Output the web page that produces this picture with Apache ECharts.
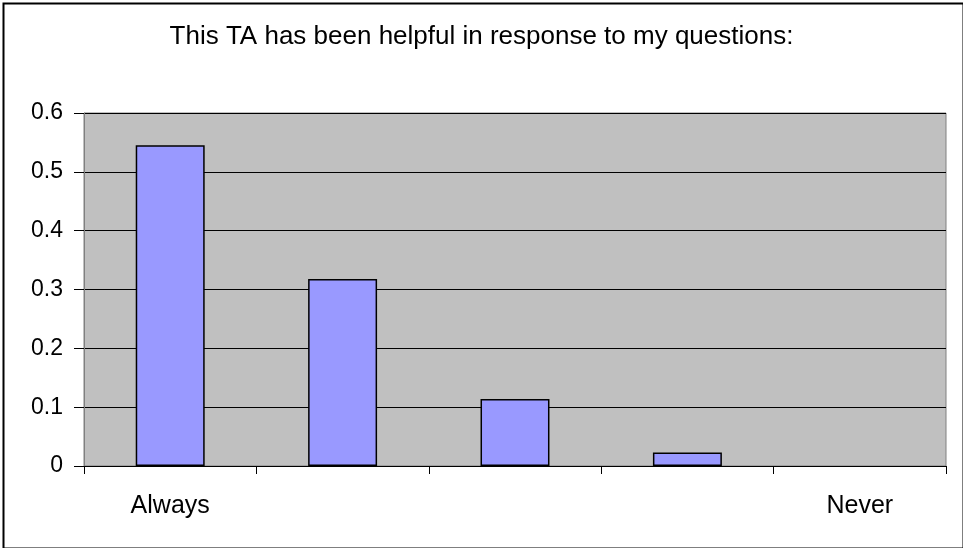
<!DOCTYPE html>
<html>
<head>
<meta charset="utf-8">
<script src="https://cdn.jsdelivr.net/npm/echarts@6/dist/echarts.min.js"></script>
<style>
  html, body { margin: 0; padding: 0; background: #fff; }
  #main { width: 963px; height: 548px; }
</style>
</head>
<body>
<div id="main"></div>
<script>
// responses to "This TA has been helpful..." (share of answers)
var categories = ['Always', '', '', '', 'Never'];
var shares = [0.545, 0.318, 0.114, 0.023, 0];
var yTicks = [0, 0.1, 0.2, 0.3, 0.4, 0.5, 0.6];

var font = 'Liberation Sans, Arial, sans-serif';

// a zero bar is not drawn at all in the original (no outline)
var barData = shares.map(function (v) {
    return v === 0 ? { value: v, itemStyle: { borderWidth: 0 } } : v;
});

var chart = echarts.init(document.getElementById('main'));
chart.setOption({
    animation: false,
    title: {
        text: 'This TA has been helpful in response to my questions:',
        left: 'center',
        top: 19,
        textStyle: {
            color: '#000',
            fontSize: 26,
            fontWeight: 'normal',
            fontFamily: font
        }
    },
    graphic: [{
        type: 'rect',
        left: 1,
        top: 1,
        shape: { width: 960, height: 545 },
        style: { fill: 'none', stroke: '#000', lineWidth: 2 },
        silent: true
    }],
    grid: {
        left: 84,
        right: 17,
        top: 113,
        bottom: 82,
        show: true,
        backgroundColor: '#C0C0C0',
        borderColor: '#808080',
        borderWidth: 1
    },
    xAxis: {
        type: 'category',
        data: categories,
        boundaryGap: true,
        axisLine: { lineStyle: { color: '#000', width: 1 } },
        axisTick: { show: true, length: 8, alignWithLabel: false, lineStyle: { color: '#000' } },
        axisLabel: {
            interval: 0,
            color: '#000',
            fontSize: 25,
            margin: 28,
            fontFamily: font
        },
        splitLine: { show: false }
    },
    yAxis: {
        type: 'value',
        min: yTicks[0],
        max: yTicks[yTicks.length - 1],
        interval: 0.1,
        axisLine: { show: true, lineStyle: { color: '#808080', width: 1 } },
        axisTick: { show: true, length: 10, lineStyle: { color: '#000' } },
        axisLabel: {
            color: '#000',
            fontSize: 23,
            margin: 21,
            fontFamily: font,
            formatter: function (v) { return String(Math.round(v * 10) / 10); }
        },
        splitLine: { show: true, lineStyle: { color: '#000', width: 1 } }
    },
    series: [{
        type: 'bar',
        data: barData,
        barWidth: '40%',
        itemStyle: {
            color: '#9999FF',
            borderColor: '#000',
            borderWidth: 1.5
        }
    }]
});
</script>
</body>
</html>
